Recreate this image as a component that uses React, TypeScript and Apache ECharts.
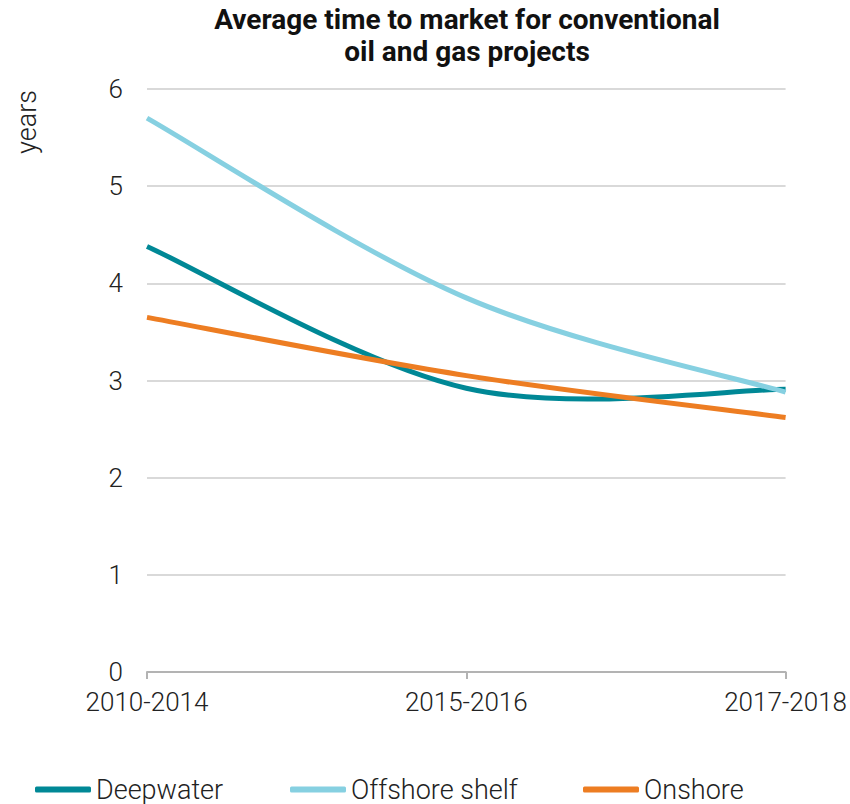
import React, { useEffect, useRef } from "react";
import * as echarts from "echarts";

const categories = ["2010-2014", "2015-2016", "2017-2018"];
const deepwater = [4.38, 2.92, 2.91];
const offshoreShelf = [5.7, 3.85, 2.88];
const onshore = [3.65, 3.05, 2.62];
const yTicks = [0, 1, 2, 3, 4, 5, 6];

const FONT = "Roboto";
const TEXT = "#222222";

// Excel-like smoothed line drawn through the axis scales (api.coord)
function smoothSeries(name: string, values: number[], color: string) {
  return {
    name,
    type: "custom",
    data: values.map((v, i) => [i, v]),
    encode: { x: 0, y: 1 },
    itemStyle: { color },
    clip: false,
    renderItem: (params: any, api: any) => {
      if (params.dataIndex !== 0) return null;
      const pts = values.map((v, i) => api.coord([i, v]));
      const n = pts.length;
      let d = `M${pts[0][0]},${pts[0][1]}`;
      for (let i = 0; i < n - 1; i++) {
        const p0 = pts[Math.max(i - 1, 0)];
        const p1 = pts[i];
        const p2 = pts[i + 1];
        const p3 = pts[Math.min(i + 2, n - 1)];
        const c1x = p1[0] + (p2[0] - p0[0]) / 6;
        const c1y = p1[1] + (p2[1] - p0[1]) / 6;
        const c2x = p2[0] - (p3[0] - p1[0]) / 6;
        const c2y = p2[1] - (p3[1] - p1[1]) / 6;
        d += ` C${c1x},${c1y} ${c2x},${c2y} ${p2[0]},${p2[1]}`;
      }
      return {
        type: "path",
        shape: { pathData: d },
        style: { fill: "none", stroke: color, lineWidth: 5, lineCap: "butt", lineJoin: "round" },
      };
    },
  };
}

function legendFor(name: string, left: number) {
  return {
    top: 771,
    left,
    itemWidth: 56,
    itemHeight: 6,
    icon: "roundRect",
    textStyle: {
      fontFamily: FONT,
      fontWeight: 300,
      fontSize: 27,
      color: TEXT,
    },
    data: [name],
  };
}

export default function App() {
  const ref = useRef<HTMLDivElement>(null);
  useEffect(() => {
    if (!ref.current) return;
    const chart = echarts.init(ref.current, null, { renderer: "svg" });
    chart.setOption({
      animation: false,
      backgroundColor: "#ffffff",
      title: {
        text: "Average time to market for conventional\noil and gas projects",
        left: 462,
        textAlign: "center",
        top: -2,
        textStyle: {
          fontFamily: FONT,
          fontWeight: "bold",
          fontSize: 28,
          lineHeight: 32,
          color: "#111111",
        },
      },
      graphic: [
        {
          type: "text",
          x: 27,
          y: 122,
          rotation: Math.PI / 2,
          style: {
            text: "years",
            fontFamily: FONT,
            fontWeight: 300,
            fontSize: 27,
            fill: TEXT,
            textAlign: "center",
            textVerticalAlign: "middle",
          },
        },
      ],
      legend: [
        legendFor("Deepwater", 30),
        legendFor("Offshore shelf", 285),
        legendFor("Onshore", 578),
      ],
      grid: { left: 147, right: 61, top: 89, bottom: 132, containLabel: false },
      xAxis: {
        type: "category",
        data: categories,
        boundaryGap: false,
        axisLine: { lineStyle: { color: "#b3b3b3", width: 2 } },
        axisTick: { show: true, length: 7, lineStyle: { color: "#b3b3b3", width: 2 } },
        axisLabel: {
          fontFamily: FONT,
          fontWeight: 300,
          fontSize: 26,
          color: TEXT,
          margin: 17,
        },
      },
      yAxis: {
        type: "value",
        min: yTicks[0],
        max: yTicks[yTicks.length - 1],
        interval: 1,
        axisLine: { show: false },
        axisTick: { show: false },
        axisLabel: {
          fontFamily: FONT,
          fontWeight: 300,
          fontSize: 26,
          color: TEXT,
          margin: 24,
        },
        splitLine: { lineStyle: { color: "#d9d9d9", width: 2 } },
      },
      series: [
        smoothSeries("Deepwater", deepwater, "#008896"),
        smoothSeries("Offshore shelf", offshoreShelf, "#86d0e1"),
        smoothSeries("Onshore", onshore, "#ed7d22"),
      ],
    });
    return () => chart.dispose();
  }, []);
  return (
    <div
      ref={ref}
      style={{ position: "absolute", left: 0, top: 0, width: 850, height: 804 }}
    />
  );
}
